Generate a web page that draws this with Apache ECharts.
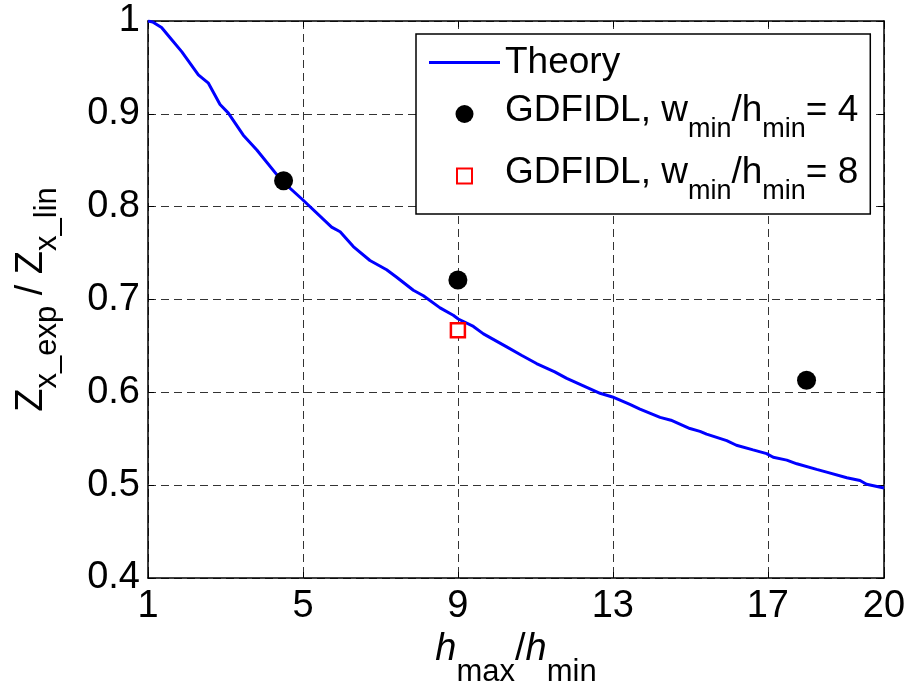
<!DOCTYPE html>
<html><head><meta charset="utf-8">
<script src="https://cdn.jsdelivr.net/npm/echarts@6/dist/echarts.min.js"></script>
<style>html,body{margin:0;padding:0;background:#fff}#c{width:908px;height:687px}</style>
</head><body><div id="c"></div>
<script>
// ---- data ----
const theoryX = [1.00,1.12,1.35,1.57,1.87,2.30,2.56,2.86,3.07,3.46,3.81,4.45,4.98,5.74,5.96,6.30,6.73,7.16,7.42,7.85,8.11,8.54,8.88,9.01,9.40,9.66,10.26,10.64,11.03,11.50,11.81,12.24,12.67,12.99,13.44,13.70,14.22,14.50,14.99,15.25,15.42,15.94,16.19,16.62,16.97,17.14,17.49,17.75,18.26,18.52,19.04,19.38,19.55,20.00];
const theoryY = [1.000,0.999,0.993,0.982,0.967,0.942,0.933,0.910,0.901,0.877,0.861,0.828,0.808,0.778,0.773,0.757,0.742,0.732,0.724,0.710,0.704,0.691,0.683,0.679,0.671,0.663,0.649,0.640,0.631,0.622,0.615,0.607,0.599,0.595,0.587,0.582,0.573,0.570,0.561,0.558,0.555,0.548,0.543,0.538,0.534,0.530,0.527,0.523,0.517,0.514,0.508,0.505,0.501,0.497];
const gdf4X = [4.5, 9, 18];
const gdf4Y = [0.828, 0.721, 0.613];
const gdf8X = [9];
const gdf8Y = [0.667];
const xTicks = [1, 5, 9, 13, 17, 20];
const yTicks = [0.4, 0.5, 0.6, 0.7, 0.8, 0.9, 1];
const seriesNames = ['Theory', 'GDFIDL, wmin/hmin= 4', 'GDFIDL, wmin/hmin= 8'];

// ---- chart ----
const FONT = '"Liberation Sans", Arial, sans-serif';
const zip = (a, b) => a.map((v, i) => [v, b[i]]);
const chart = echarts.init(document.getElementById('c'), null, { renderer: 'canvas' });

const legendRich = {
  t: { fontSize: 37, fontFamily: FONT, color: '#000', verticalAlign: 'top' },
  a: { fontSize: 37, fontFamily: FONT, color: '#000', verticalAlign: 'top', padding: [7, 0, 0, 0] },
  s: { fontSize: 27, fontFamily: FONT, color: '#000', verticalAlign: 'top', padding: [31, 0, 0, 0] }
};
const xNameRich = {
  a: { fontSize: 38, fontFamily: FONT, color: '#000', verticalAlign: 'top' },
  i: { fontSize: 38, fontFamily: FONT, fontStyle: 'italic', color: '#000', verticalAlign: 'top' },
  s: { fontSize: 31, fontFamily: FONT, color: '#000', verticalAlign: 'top', padding: [26, 0, 0, 0] }
};
const yNameRich = {
  a: { fontSize: 38, fontFamily: FONT, color: '#000', verticalAlign: 'top' },
  s: { fontSize: 31, fontFamily: FONT, color: '#000', verticalAlign: 'top', padding: [19, 0, 0, 0] }
};

function legendFmt(name) {
  if (name === seriesNames[0]) return '{t|Theory}';
  const n = name === seriesNames[1] ? '4' : '8';
  return '{a|GDFIDL, w}{s|min}{a|/h}{s|min}{a|= ' + n + '}';
}

const tickStyle = { show: true, inside: true, length: 6, lineStyle: { color: '#000', width: 1 } };
const axisLine = { show: true, onZero: false, lineStyle: { color: '#000', width: 1.5 } };
const gridLine = { show: true, lineStyle: { color: '#333', width: 1, type: [8, 5] } };
const labelStyle = { fontSize: 38, fontFamily: FONT, color: '#000' };

const option = {
  backgroundColor: '#fff',
  animation: false,
  grid: { left: 148, right: 24, top: 21, bottom: 109, containLabel: false, outerBoundsMode: 'none' },
  legend: {
    show: true,
    orient: 'vertical',
    left: 416, top: 34,
    padding: [10, 12, 9, 13],
    itemGap: 11,
    itemWidth: 71, itemHeight: 18,
    selectedMode: false,
    backgroundColor: '#fff',
    borderColor: '#000', borderWidth: 1.5,
    data: [
      { name: seriesNames[0], icon: 'path://M0,0L71,0L71,3L0,3Z' },
      { name: seriesNames[1], icon: 'circle' },
      { name: seriesNames[2], icon: 'path://M-1,-1 M0,0L10,0L10,10L0,10Z M11,11' }
    ],
    formatter: legendFmt,
    textStyle: { rich: legendRich }
  },
  xAxis: [
    {
      type: 'value', min: 1, max: 20, interval: 4, position: 'bottom',
      axisLine: axisLine,
      axisTick: Object.assign({ customValues: xTicks }, tickStyle),
      axisLabel: Object.assign({ customValues: xTicks, margin: 10, showMinLabel: true, showMaxLabel: true }, labelStyle),
      splitLine: gridLine,
      name: '{i|h}{s|max}{a|/}{i|h}{s|min}',
      nameLocation: 'middle', nameGap: 51,
      nameTextStyle: { rich: xNameRich }
    },
    {
      type: 'value', min: 1, max: 20, interval: 4, position: 'top',
      axisLine: axisLine,
      axisTick: Object.assign({ customValues: xTicks }, tickStyle),
      axisLabel: { show: false },
      splitLine: { show: false }
    }
  ],
  yAxis: [
    {
      type: 'value', min: 0.4, max: 1, interval: 0.1, position: 'left',
      axisLine: axisLine,
      axisTick: Object.assign({ customValues: yTicks }, tickStyle),
      axisLabel: Object.assign({ customValues: yTicks, margin: 8, showMinLabel: true, showMaxLabel: true,
        formatter: v => (Math.round(v * 10) / 10).toString() }, labelStyle),
      splitLine: gridLine,
      name: '{a|Z}{s|x_exp}{a| / Z}{s|x_lin}',
      nameLocation: 'middle', nameGap: 85,
      nameTextStyle: { rich: yNameRich }
    },
    {
      type: 'value', min: 0.4, max: 1, interval: 0.1, position: 'right',
      axisLine: axisLine,
      axisTick: Object.assign({ customValues: yTicks }, tickStyle),
      axisLabel: { show: false },
      splitLine: { show: false }
    }
  ],
  series: [
    {
      name: seriesNames[0], type: 'line', xAxisIndex: 0, yAxisIndex: 0,
      data: zip(theoryX, theoryY),
      showSymbol: false, symbol: 'none', smooth: false,
      lineStyle: { color: '#0000ff', width: 3 },
      itemStyle: { color: '#0000ff' },
      z: 2
    },
    {
      name: seriesNames[1], type: 'scatter', xAxisIndex: 0, yAxisIndex: 0,
      data: zip(gdf4X, gdf4Y),
      symbol: 'circle', symbolSize: 19,
      itemStyle: { color: '#000', opacity: 1 },
      z: 3
    },
    {
      name: seriesNames[2], type: 'scatter', xAxisIndex: 0, yAxisIndex: 0,
      data: zip(gdf8X, gdf8Y),
      symbol: 'rect', symbolSize: 14,
      itemStyle: { color: '#fff', borderColor: '#ff0000', borderWidth: 2.5, opacity: 1 },
      z: 4
    }
  ]
};
chart.setOption(option);
</script>
</body></html>
